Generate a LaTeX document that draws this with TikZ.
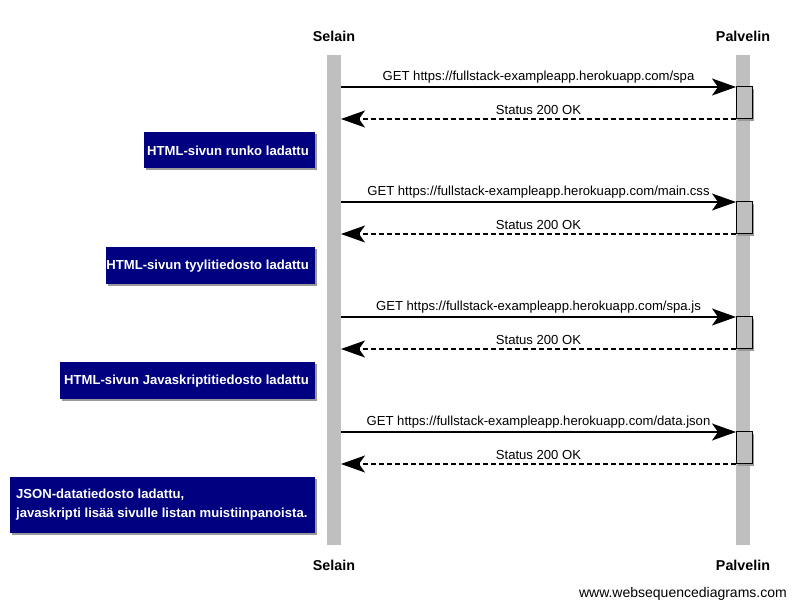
\documentclass[tikz,border=0pt]{standalone}
\usepackage{fontspec}
\setmainfont{Liberation Sans}
\usetikzlibrary{arrows.meta}
\begin{document}
\begin{tikzpicture}[x=1pt,y=-1pt,
  lifeline/.style={fill=black!25,draw=none},
  actbox/.style={fill=black!25,draw=black,line width=1pt},
  actor/.style={font=\bfseries\fontsize{14.3}{16}\selectfont,inner sep=0pt},
  msg/.style={line width=1.3pt,-{Stealth[length=24pt,width=17pt,inset=6pt]}},
  ret/.style={msg,dash pattern=on 5pt off 3pt},
  lbl/.style={font=\fontsize{13.1}{15}\selectfont,inner sep=0pt,anchor=base},
  note/.style={text=white,font=\bfseries\fontsize{13.1}{19}\selectfont,inner sep=0pt,draw=none},
  shadow/.style={fill=black!40,draw=none}
]
\definecolor{navyc}{HTML}{000080}
\useasboundingbox (0,0) rectangle (796,609);
% lifelines
\fill[lifeline] (327,55) rectangle (341,545);
\fill[lifeline] (736,55) rectangle (750,545);
\node[actor] (s1) at (334,36) {Selain};
\node[actor] (p1) at (743,36) {Palvelin};
\node[actor] (s2) at (334,565) {Selain};
\node[actor] (p2) at (743,565) {Palvelin};
% coordinates
\foreach \i/\y in {1/87,2/202,3/317,4/432}{
  \coordinate (sa\i) at (341,\y);
  \coordinate (pa\i) at (736,\y);
  \coordinate (sb\i) at (341,\y+32);
  \coordinate (pb\i) at (736,\y+32);
  \fill[shadow] (738,\y+2) rectangle (754,\y+34);
  \draw[actbox] (736,\y) rectangle (752,\y+32);
}
\draw[msg] (sa1) -- (pa1) node[lbl,midway,yshift=6pt] {GET https://fullstack-exampleapp.herokuapp.com/spa};
\draw[ret] (pb1) -- (sb1) node[lbl,midway,yshift=4pt] {Status 200 OK};
\draw[msg] (sa2) -- (pa2) node[lbl,midway,yshift=6pt] {GET https://fullstack-exampleapp.herokuapp.com/main.css};
\draw[ret] (pb2) -- (sb2) node[lbl,midway,yshift=4pt] {Status 200 OK};
\draw[msg] (sa3) -- (pa3) node[lbl,midway,yshift=6pt] {GET https://fullstack-exampleapp.herokuapp.com/spa.js};
\draw[ret] (pb3) -- (sb3) node[lbl,midway,yshift=4pt] {Status 200 OK};
\draw[msg] (sa4) -- (pa4) node[lbl,midway,yshift=6pt] {GET https://fullstack-exampleapp.herokuapp.com/data.json};
\draw[ret] (pb4) -- (sb4) node[lbl,midway,yshift=4pt] {Status 200 OK};
% notes
\fill[shadow] (146,134) rectangle (317,170);
\fill[navyc] (144,132) rectangle (315,168);
\node[note,anchor=east] (n1) at (309,151) {HTML-sivun runko ladattu};
\fill[shadow] (108,249) rectangle (317,286);
\fill[navyc] (106,247) rectangle (315,284);
\node[note,anchor=east] (n2) at (309,266) {HTML-sivun tyylitiedosto ladattu};
\fill[shadow] (62,364) rectangle (317,401);
\fill[navyc] (60,362) rectangle (315,399);
\node[note,anchor=east] (n3) at (309,381) {HTML-sivun Javaskriptitiedosto ladattu};
\fill[shadow] (12,479) rectangle (317,535);
\fill[navyc] (10,477) rectangle (315,533);
\node[note,anchor=west,align=left] (n4) at (16,505) {JSON-datatiedosto ladattu,\\javaskripti lisää sivulle listan muistiinpanoista.};
\node[font=\fontsize{14}{16}\selectfont,inner sep=0pt,anchor=east] (w) at (787,594) {www.websequencediagrams.com};
\end{tikzpicture}
\end{document}
